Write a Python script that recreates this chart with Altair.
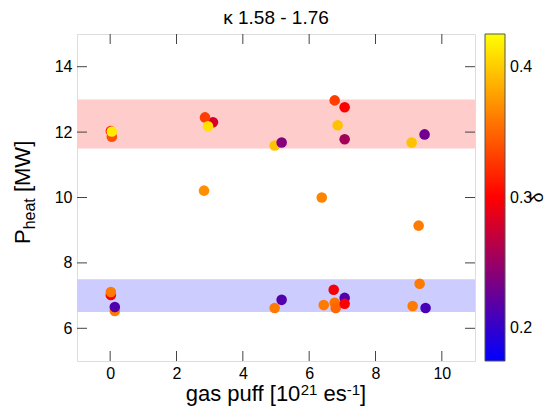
import altair as alt
import pandas as pd

# ---- data ----
gas_puff = [0.02, 0.05, 0.05, 3.10, 2.86, 2.95, 4.96, 5.17, 6.77, 7.07, 6.86, 7.07, 9.09, 9.48,
            2.83, 6.38, 9.30,
            0.02, 0.02, 0.14, 0.14, 4.96, 5.17, 6.74, 6.44, 6.77, 6.80, 7.07, 7.07, 9.33, 9.12, 9.51]
p_heat = [12.03, 11.86, 12.02, 12.30, 12.45, 12.18, 11.59, 11.68, 12.97, 12.76, 12.21, 11.78, 11.68, 11.93,
          10.21, 10.00, 9.14,
          7.02, 7.11, 6.53, 6.65, 6.62, 6.87, 7.18, 6.71, 6.78, 6.62, 6.93, 6.75, 7.36, 6.68, 6.62]
delta = [0.305, 0.34, 0.415, 0.28, 0.33, 0.41, 0.395, 0.24, 0.33, 0.30, 0.395, 0.255, 0.395, 0.23,
         0.37, 0.365, 0.36,
         0.30, 0.36, 0.36, 0.215, 0.36, 0.215, 0.295, 0.36, 0.355, 0.35, 0.215, 0.30, 0.36, 0.36, 0.21]

x_ticks = [0, 2, 4, 6, 8, 10]
y_ticks = [6, 8, 10, 12, 14]
cb_ticks = [0.2, 0.3, 0.4]
band_lo = [11.5, 6.5]
band_hi = [13.0, 7.5]
band_fill = ["#ffcccc", "#ccccff"]
band_x0 = [-1, -1]
band_x1 = [11, 11]

x_domain = [-1, 11]
y_domain = [5, 15]
c_domain = [0.175, 0.3, 0.425]
c_range = ["#0000ff", "#ff0000", "#ffff00"]

title_text = "κ 1.58 - 1.76"

FONT = "Liberation Sans"
W, H = 398, 327

xscale = alt.Scale(domain=x_domain, nice=False, zero=False)
yscale = alt.Scale(domain=y_domain, nice=False, zero=False)
cscale = alt.Scale(domain=c_domain, range=c_range, interpolate="rgb")

xaxis = alt.Axis(values=x_ticks, ticks=False, tickSize=0, grid=False, domain=False,
                 labelFont=FONT, labelFontSize=16, labelColor="black", labelPadding=4, title=None)
yaxis = alt.Axis(values=y_ticks, ticks=False, tickSize=0, grid=False, domain=False,
                 labelFont=FONT, labelFontSize=16, labelColor="black", labelPadding=5, title=None)


def X(f):
    return alt.X(f, type="quantitative", scale=xscale, axis=xaxis)


def Y(f):
    return alt.Y(f, type="quantitative", scale=yscale, axis=yaxis)


pts = pd.DataFrame({"gas": gas_puff, "p": p_heat, "delta": delta})
bands = pd.DataFrame({"lo": band_lo, "hi": band_hi, "fill": band_fill, "x0": band_x0, "x1": band_x1})
xt = pd.DataFrame({"v": x_ticks})
yt = pd.DataFrame({"v": y_ticks})
cbt = pd.DataFrame({"c": cb_ticks})

band_layer = alt.Chart(bands).mark_rect().encode(
    x=X("x0"), x2="x1", y=Y("lo"), y2="hi", fill=alt.Fill("fill:N", scale=None))

TC = "#444444"
tick_layers = [
    alt.Chart(xt).mark_rule(color=TC, strokeWidth=1).encode(x=X("v"), y=alt.value(H), y2=alt.value(H - 10)),
    alt.Chart(xt).mark_rule(color=TC, strokeWidth=1).encode(x=X("v"), y=alt.value(0), y2=alt.value(10)),
    alt.Chart(yt).mark_rule(color=TC, strokeWidth=1).encode(y=Y("v"), x=alt.value(0), x2=alt.value(10)),
    alt.Chart(yt).mark_rule(color=TC, strokeWidth=1).encode(y=Y("v"), x=alt.value(W - 10), x2=alt.value(W)),
]

legend = alt.Legend(orient="none", legendX=408, legendY=0, direction="vertical",
                    gradientLength=H, gradientThickness=20, values=cb_ticks, format=".1f",
                    labelFont=FONT, labelFontSize=16, labelColor="black", labelOffset=5,
                    title=None, padding=0, gradientStrokeColor="#555555", gradientStrokeWidth=1)

point_layer = alt.Chart(pts).mark_circle(size=112, opacity=1).encode(
    x=X("gas"), y=Y("p"), color=alt.Color("delta:Q", scale=cscale, legend=legend))

# colorbar tick dashes, placed through the main y scale (colorbar spans the same height)
cb_expr = f"{y_domain[0]} + (datum.c - {c_domain[0]}) / ({c_domain[2]} - {c_domain[0]}) * ({y_domain[1]} - {y_domain[0]})"
cb_layers = [
    alt.Chart(cbt).transform_calculate(yv=cb_expr).mark_rule(color="#333333", strokeWidth=1).encode(
        y=Y("yv"), x=alt.value(408.5), x2=alt.value(413.5)),
    alt.Chart(cbt).transform_calculate(yv=cb_expr).mark_rule(color="#333333", strokeWidth=1).encode(
        y=Y("yv"), x=alt.value(423), x2=alt.value(428)),
]

# ---- titles with sub/superscripts ----
AW = {'g': 556, 'a': 556, 's': 500, ' ': 278, 'p': 556, 'u': 556, 'f': 278, '[': 278, '1': 556,
      '0': 556, '2': 556, 'e': 556, '-': 333, ']': 278, 'P': 667, 'h': 556, 't': 278, 'M': 833, 'W': 944}


def tw(s, fs):
    return sum(AW[c] for c in s) * fs / 1000.0


def txt(s, x, y, fs, angle=0, align="left"):
    return alt.Chart(pd.DataFrame({"t": [s]})).mark_text(
        font=FONT, fontSize=fs, color="black", align=align, baseline="alphabetic", angle=angle
    ).encode(x=alt.value(x), y=alt.value(y), text="t:N")


text_layers = []
F, S = 22, 15
RAISE = -6.5
xpieces = [("gas puff [10", F, 0), ("21", S, RAISE), (" ", F, None), ("es", F, 0), ("-1", S, RAISE), ("]", F, 0)]
total = sum(tw(s, fs) for s, fs, _ in xpieces)
cx = W / 2 - total / 2
base = H + 40
for s, fs, sh in xpieces:
    if sh is not None:
        text_layers.append(txt(s, cx, base + sh, fs))
    cx += tw(s, fs)

ypieces = [("P", 22, 0), ("heat", 16, 4.5), (" ", 22, None), ("[MW]", 22, 0)]
cy = 210
for s, fs, sh in ypieces:
    if sh is not None:
        text_layers.append(txt(s, -47 + sh, cy, fs, angle=270))
    cy -= tw(s, fs)

text_layers.append(txt("δ", 466, H / 2, 18, angle=270, align="center"))

chart = alt.layer(band_layer, *tick_layers, point_layer, *cb_layers, *text_layers).properties(
    width=W, height=H,
    autosize=alt.AutoSizeParams(type="none"),
    padding={"left": 69, "top": 26, "right": 72, "bottom": 45},
    title=alt.TitleParams(text=title_text, font=FONT, fontSize=19, fontWeight="normal",
                          color="black", offset=6, anchor="middle"),
).configure_view(stroke="#222222", strokeWidth=1.5).configure(background="white")

chart.save("out.html", embed_options={"renderer": "svg", "actions": False})
